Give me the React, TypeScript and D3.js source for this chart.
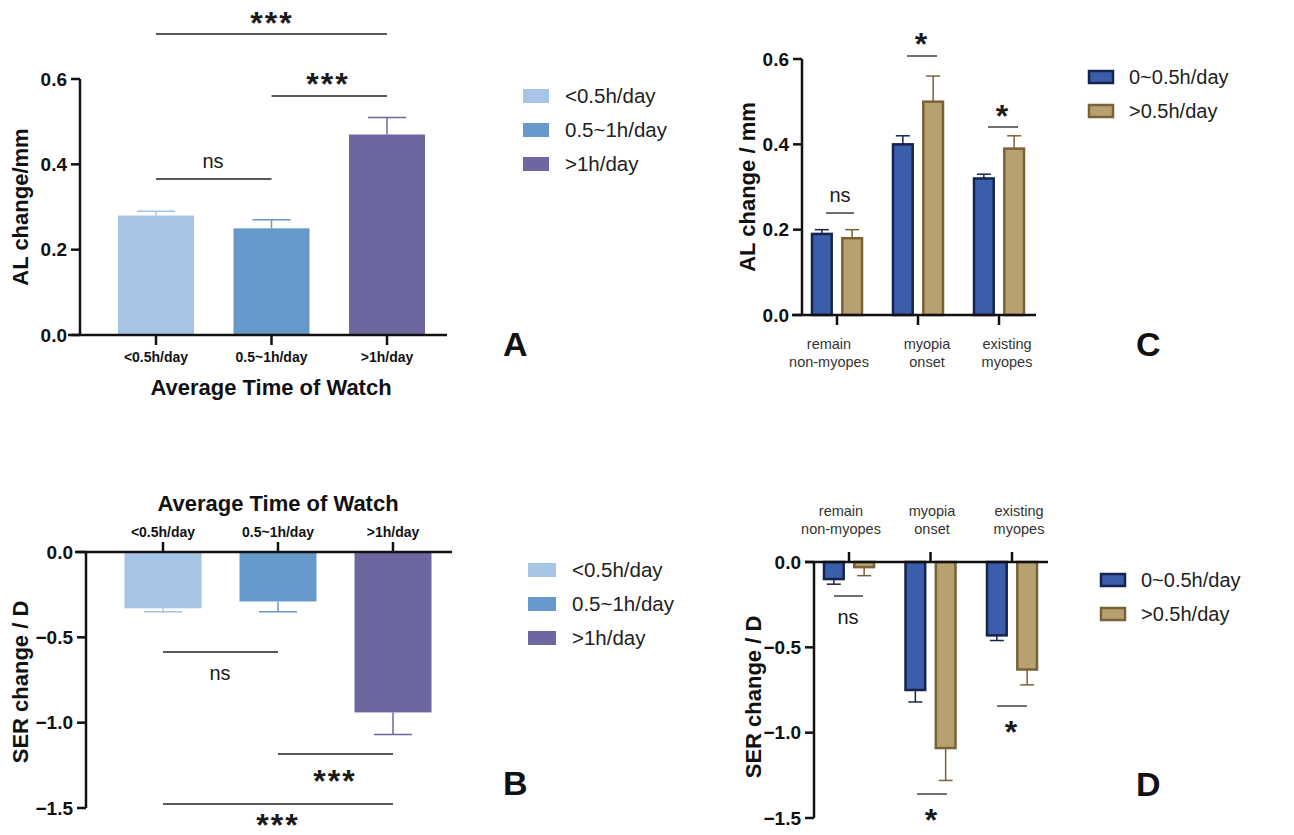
import * as d3 from "d3";
import { useEffect, useRef } from "react";

// panel A / B data
const watchGroups = ["<0.5h/day", "0.5~1h/day", ">1h/day"];
const watchColors = ["#a5c4e6", "#6699ca", "#6c689f"];
const alMean = [0.28, 0.25, 0.47];
const alErr = [0.29, 0.27, 0.51];
const serMean = [-0.33, -0.29, -0.94];
const serErr = [-0.35, -0.35, -1.07];

// panel C / D data
const myopiaGroups = [["remain", "non-myopes"], ["myopia", "onset"], ["existing", "myopes"]];
const useSeries = ["0~0.5h/day", ">0.5h/day"];
const useFill = ["#3b5eab", "#b8a171"];
const useStroke = ["#16234f", "#7a6236"];
const alC = [[0.19, 0.18], [0.40, 0.50], [0.32, 0.39]];
const alCErr = [[0.20, 0.20], [0.42, 0.56], [0.33, 0.42]];
const serD = [[-0.10, -0.03], [-0.75, -1.09], [-0.43, -0.63]];
const serDErr = [[-0.13, -0.08], [-0.82, -1.28], [-0.46, -0.72]];

const yTicksAL = [0, 0.2, 0.4, 0.6];
const yTicksSER = [0, -0.5, -1.0, -1.5];

const FONT = "Arial, 'Liberation Sans', sans-serif";

const App = () => {
  const ref = useRef<SVGSVGElement>(null);

  useEffect(() => {
    const svg = d3.select(ref.current);
    svg.selectAll("*").remove();
    svg.style("font-family", FONT);

    const yAxis = (g, y, x0, ticks) => {
      g.append("line").attr("x1", x0).attr("x2", x0)
        .attr("y1", d3.min(y.range())).attr("y2", d3.max(y.range()))
        .attr("stroke", "#111").attr("stroke-width", 2.5);
      ticks.forEach((t) => {
        g.append("line").attr("x1", x0 - 9).attr("x2", x0).attr("y1", y(t)).attr("y2", y(t))
          .attr("stroke", "#111").attr("stroke-width", 2.5);
        g.append("text").attr("x", x0 - 13).attr("y", y(t)).attr("dy", "0.35em")
          .attr("text-anchor", "end").attr("font-size", 19).attr("font-weight", "bold")
          .attr("fill", "#111").text(d3.format(".1f")(t));
      });
    };

    const yLabel = (g, x, y, txt) => {
      g.append("text").attr("transform", `translate(${x},${y}) rotate(-90)`)
        .attr("text-anchor", "middle").attr("dy", "0.35em")
        .attr("font-size", 22).attr("font-weight", "bold").attr("fill", "#111").text(txt);
    };

    const sig = (g, xa, xb, yLine, txt, yTxt, xTxt) => {
      g.append("line").attr("x1", xa).attr("x2", xb).attr("y1", yLine).attr("y2", yLine)
        .attr("stroke", "#222").attr("stroke-width", 1.3);
      const isNs = txt === "ns";
      g.append("text").attr("x", xTxt).attr("y", yTxt)
        .attr("dy", isNs ? "0.35em" : "0.5em")
        .attr("text-anchor", "middle").attr("font-size", isNs ? 20 : 32)
        .attr("letter-spacing", isNs ? 0 : 2)
        .attr("font-weight", isNs ? "normal" : "bold").attr("fill", "#1a1a1a").text(txt);
    };

    const legend = (g, x, y0, step, w, h, labels, fills, strokes, size) => {
      labels.forEach((l, i) => {
        const cy = y0 + i * step;
        g.append("rect").attr("x", x).attr("y", cy - h / 2).attr("width", w).attr("height", h)
          .attr("fill", fills[i]).attr("stroke", strokes ? strokes[i] : "none")
          .attr("stroke-width", strokes ? 2.5 : 0);
        g.append("text").attr("x", x + w + 16).attr("y", cy).attr("dy", "0.35em")
          .attr("font-size", size).attr("fill", "#222").text(l);
      });
    };

    const panelLabel = (g, x, y, t) => {
      g.append("text").attr("x", x).attr("y", y).attr("font-size", 34)
        .attr("font-weight", "bold").attr("fill", "#111").text(t);
    };

    // ---------- Panel A ----------
    {
      const g = svg.append("g");
      const x = d3.scalePoint().domain(watchGroups).range([156, 387]);
      const y = d3.scaleLinear().domain([0, 0.6]).range([335, 79]);
      const bw = 76;
      watchGroups.forEach((c, i) => {
        const cx = x(c);
        g.append("line").attr("x1", cx).attr("x2", cx).attr("y1", y(alMean[i])).attr("y2", y(alErr[i]))
          .attr("stroke", watchColors[i]).attr("stroke-width", 1.5);
        g.append("line").attr("x1", cx - 19).attr("x2", cx + 19).attr("y1", y(alErr[i])).attr("y2", y(alErr[i]))
          .attr("stroke", watchColors[i]).attr("stroke-width", 1.5);
        g.append("rect").attr("x", cx - bw / 2).attr("y", y(alMean[i])).attr("width", bw)
          .attr("height", y(0) - y(alMean[i])).attr("fill", watchColors[i]);
      });
      yAxis(g, y, 80, yTicksAL);
      g.append("line").attr("x1", 68).attr("x2", 447).attr("y1", y(0)).attr("y2", y(0))
        .attr("stroke", "#111").attr("stroke-width", 2.5);
      watchGroups.forEach((c) => {
        g.append("line").attr("x1", x(c)).attr("x2", x(c)).attr("y1", y(0)).attr("y2", y(0) + 10)
          .attr("stroke", "#111").attr("stroke-width", 2.5);
        g.append("text").attr("x", x(c)).attr("y", 357).attr("dy", "0.35em").attr("text-anchor", "middle")
          .attr("font-size", 14).attr("font-weight", "bold").attr("fill", "#111").text(c);
      });
      g.append("text").attr("x", 271).attr("y", 387).attr("dy", "0.35em").attr("text-anchor", "middle")
        .attr("font-size", 22).attr("font-weight", "bold").attr("fill", "#111").text("Average Time of Watch");
      yLabel(g, 20, 207, "AL change/mm");
      sig(g, x(watchGroups[0]), x(watchGroups[2]), 34, "***", 18, 272);
      sig(g, x(watchGroups[1]), x(watchGroups[2]), 96, "***", 79, 328);
      sig(g, x(watchGroups[0]), x(watchGroups[1]), 179, "ns", 161, 213);
      legend(g, 523, 96, 34, 26, 14, watchGroups, watchColors, null, 20.5);
      panelLabel(g, 503, 356, "A");
    }

    // ---------- Panel B ----------
    {
      const g = svg.append("g");
      const x = d3.scalePoint().domain(watchGroups).range([163, 393]);
      const y = d3.scaleLinear().domain([0, -1.5]).range([552, 808]);
      const bw = 77;
      watchGroups.forEach((c, i) => {
        const cx = x(c);
        g.append("line").attr("x1", cx).attr("x2", cx).attr("y1", y(serMean[i])).attr("y2", y(serErr[i]))
          .attr("stroke", watchColors[i]).attr("stroke-width", 1.5);
        g.append("line").attr("x1", cx - 19).attr("x2", cx + 19).attr("y1", y(serErr[i])).attr("y2", y(serErr[i]))
          .attr("stroke", watchColors[i]).attr("stroke-width", 1.5);
        g.append("rect").attr("x", cx - bw / 2).attr("y", y(0)).attr("width", bw)
          .attr("height", y(serMean[i]) - y(0)).attr("fill", watchColors[i]);
      });
      yAxis(g, y, 86, yTicksSER);
      g.append("line").attr("x1", 75).attr("x2", 452).attr("y1", y(0)).attr("y2", y(0))
        .attr("stroke", "#111").attr("stroke-width", 2.5);
      watchGroups.forEach((c) => {
        g.append("line").attr("x1", x(c)).attr("x2", x(c)).attr("y1", y(0)).attr("y2", y(0) - 10)
          .attr("stroke", "#111").attr("stroke-width", 2.5);
        g.append("text").attr("x", x(c)).attr("y", 532).attr("dy", "0.35em").attr("text-anchor", "middle")
          .attr("font-size", 14).attr("font-weight", "bold").attr("fill", "#111").text(c);
      });
      g.append("text").attr("x", 278).attr("y", 503).attr("dy", "0.35em").attr("text-anchor", "middle")
        .attr("font-size", 22).attr("font-weight", "bold").attr("fill", "#111").text("Average Time of Watch");
      yLabel(g, 20, 682, "SER change / D");
      sig(g, x(watchGroups[0]), x(watchGroups[1]), 652, "ns", 673, 220);
      sig(g, x(watchGroups[1]), x(watchGroups[2]), 754, "***", 776, 335);
      sig(g, x(watchGroups[0]), x(watchGroups[2]), 804, "***", 820, 278);
      legend(g, 528, 570, 34, 28, 14, watchGroups, watchColors, null, 20.5);
      panelLabel(g, 503, 795, "B");
    }

    const groupedBars = (g, x, sub, y, means, errs) => {
      myopiaGroups.forEach((grp, i) => {
        useSeries.forEach((s, j) => {
          const bx = x(grp[0]) + sub(s);
          const cx = bx + sub.bandwidth() / 2;
          const v = means[i][j];
          const e = errs[i][j];
          g.append("line").attr("x1", cx).attr("x2", cx).attr("y1", y(v)).attr("y2", y(e))
            .attr("stroke", useStroke[j]).attr("stroke-width", 1.5);
          g.append("line").attr("x1", cx - 7).attr("x2", cx + 7).attr("y1", y(e)).attr("y2", y(e))
            .attr("stroke", useStroke[j]).attr("stroke-width", 1.5);
          g.append("rect").attr("x", bx).attr("y", Math.min(y(v), y(0)))
            .attr("width", sub.bandwidth()).attr("height", Math.abs(y(v) - y(0)))
            .attr("fill", useFill[j]).attr("stroke", useStroke[j]).attr("stroke-width", 2.5);
        });
      });
    };

    // ---------- Panel C ----------
    {
      const g = svg.append("g");
      const x = d3.scalePoint().domain(myopiaGroups.map((d) => d[0])).range([837, 999]);
      const sub = d3.scaleBand().domain(useSeries).range([-25, 25]).paddingInner(0.35);
      const y = d3.scaleLinear().domain([0, 0.6]).range([315, 59]);
      groupedBars(g, x, sub, y, alC, alCErr);
      yAxis(g, y, 802, yTicksAL);
      g.append("line").attr("x1", 792).attr("x2", 1036).attr("y1", y(0)).attr("y2", y(0))
        .attr("stroke", "#111").attr("stroke-width", 2.5);
      const labX = [829, 927, 1007];
      myopiaGroups.forEach((grp, i) => {
        const cx = x(grp[0]);
        g.append("line").attr("x1", cx).attr("x2", cx).attr("y1", y(0)).attr("y2", y(0) + 10)
          .attr("stroke", "#111").attr("stroke-width", 2.5);
        grp.forEach((line, k) => {
          g.append("text").attr("x", labX[i]).attr("y", 344 + k * 18).attr("dy", "0.35em")
            .attr("text-anchor", "middle").attr("font-size", 14.5).attr("fill", "#333").text(line);
        });
      });
      yLabel(g, 747, 187, "AL change / mm");
      sig(g, 826, 854, 213, "ns", 195, 840);
      sig(g, 907, 937, 56, "*", 39, 922);
      sig(g, 988, 1018, 127, "*", 111, 1003);
      legend(g, 1089, 77, 34, 24, 12, useSeries, useFill, useStroke, 20);
      panelLabel(g, 1136, 356, "C");
    }

    // ---------- Panel D ----------
    {
      const g = svg.append("g");
      const x = d3.scalePoint().domain(myopiaGroups.map((d) => d[0])).range([849, 1012]);
      const sub = d3.scaleBand().domain(useSeries).range([-25, 25]).paddingInner(0.35);
      const y = d3.scaleLinear().domain([0, -1.5]).range([562, 818]);
      groupedBars(g, x, sub, y, serD, serDErr);
      yAxis(g, y, 814, yTicksSER);
      g.append("line").attr("x1", 805).attr("x2", 1048).attr("y1", y(0)).attr("y2", y(0))
        .attr("stroke", "#111").attr("stroke-width", 2.5);
      const labX = [841, 932, 1019];
      myopiaGroups.forEach((grp, i) => {
        const cx = x(grp[0]);
        g.append("line").attr("x1", cx).attr("x2", cx).attr("y1", y(0)).attr("y2", y(0) - 10)
          .attr("stroke", "#111").attr("stroke-width", 2.5);
        grp.forEach((line, k) => {
          g.append("text").attr("x", labX[i]).attr("y", 511 + k * 18).attr("dy", "0.35em")
            .attr("text-anchor", "middle").attr("font-size", 14.5).attr("fill", "#333").text(line);
        });
      });
      yLabel(g, 753, 697, "SER change / D");
      sig(g, 834, 863, 596, "ns", 617, 848);
      sig(g, 917, 947, 794, "*", 815, 932);
      sig(g, 997, 1027, 706, "*", 727, 1012);
      legend(g, 1101, 580, 34, 24, 12, useSeries, useFill, useStroke, 20);
      panelLabel(g, 1136, 796, "D");
    }
  }, []);

  return (
    <div style={{ position: "absolute", left: 0, top: 0 }}>
      <svg ref={ref} width={1294} height={835} style={{ display: "block", background: "#fff" }} />
    </div>
  );
};

export default App;
